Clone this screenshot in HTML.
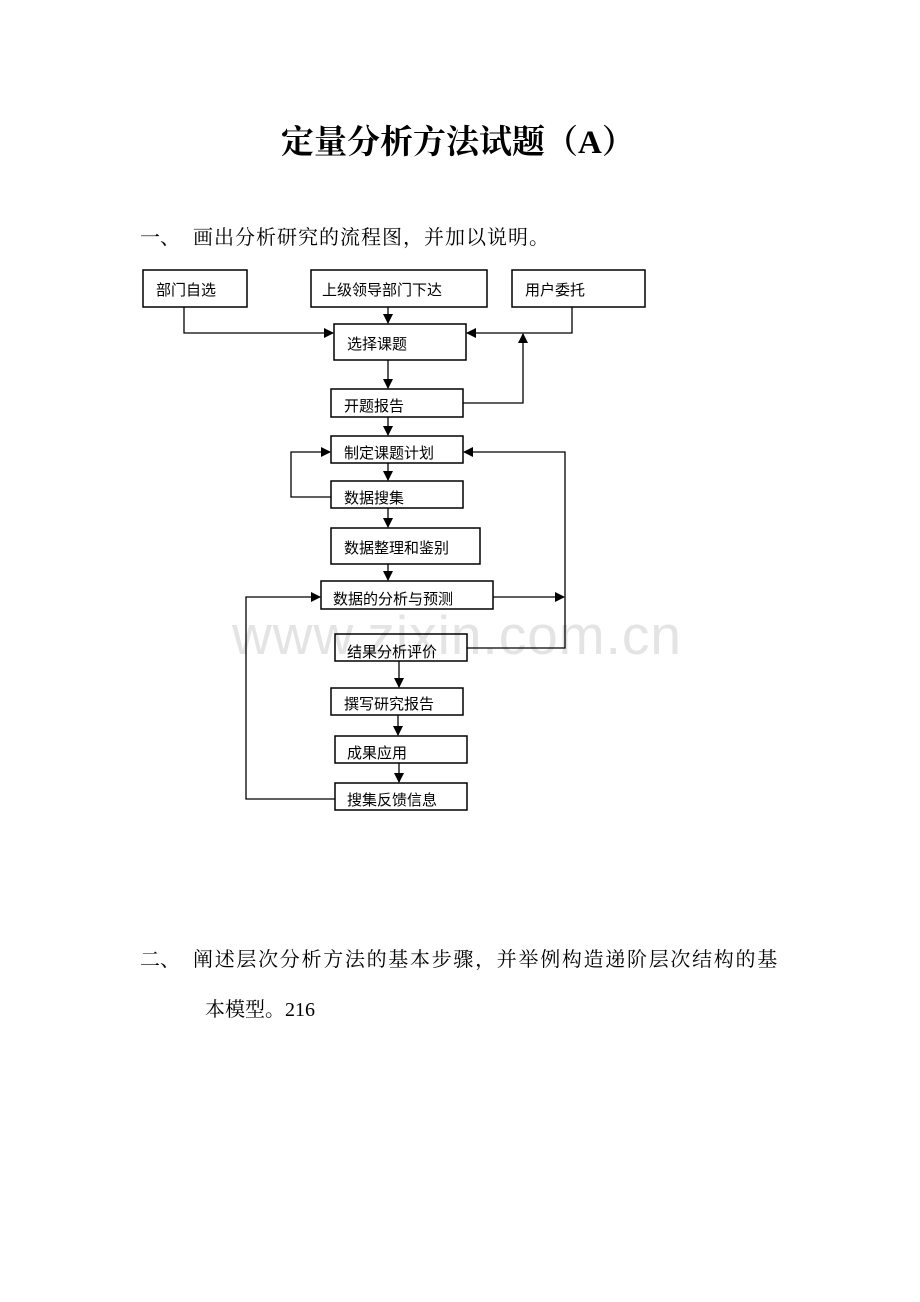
<!DOCTYPE html>
<html><head><meta charset="utf-8"><style>
body{margin:0;background:#fff;}
.p{position:relative;width:920px;height:1302px;overflow:hidden;font-family:"Liberation Serif","Noto Serif CJK SC","Noto Sans CJK SC",serif;}
.t{position:absolute;white-space:nowrap;color:#000;}
</style></head><body><div class="p">
<div class="t" style="left:232px;top:603px;font-family:'Liberation Sans',sans-serif;font-size:55px;color:#e4e4e4;letter-spacing:1px;">www.zixin.com.cn</div>
<div class="t" style="left:281px;top:116px;font-size:33px;font-weight:bold;letter-spacing:0px;">定量分析方法试题（A）</div>
<div class="t" style="left:140px;top:221px;font-size:20px;">一、</div>
<div class="t" style="left:193px;top:221px;font-size:20px;letter-spacing:1px;">画出分析研究的流程图，并加以说明。</div>
<div class="t" style="left:140px;top:943px;font-size:20px;">二、</div>
<div class="t" style="left:193px;top:943px;font-size:20px;letter-spacing:1.7px;">阐述层次分析方法的基本步骤，并举例构造递阶层次结构的基</div>
<div class="t" style="left:205px;top:993px;font-size:20px;">本模型。216</div>
<svg width="920" height="1302" style="position:absolute;left:0;top:0" font-family="Liberation Sans, Noto Sans CJK SC, sans-serif" font-size="15">
<defs><marker id="a" markerWidth="10" markerHeight="10" refX="9" refY="5" orient="auto" markerUnits="userSpaceOnUse"><path d="M0,0 L10,5 L0,10z" fill="#000"/></marker></defs>
<g fill="none" stroke="#000" stroke-width="1.5">
<rect x="143" y="270" width="104" height="37"/>
<rect x="311" y="270" width="176" height="37"/>
<rect x="512" y="270" width="133" height="37"/>
<rect x="334" y="324" width="132" height="36"/>
<rect x="331" y="389" width="132" height="28"/>
<rect x="331" y="436" width="132" height="27"/>
<rect x="331" y="481" width="132" height="27"/>
<rect x="331" y="528" width="149" height="36"/>
<rect x="321" y="581" width="172" height="28"/>
<rect x="335" y="634" width="132" height="27"/>
<rect x="331" y="688" width="132" height="27"/>
<rect x="335" y="736" width="132" height="27"/>
<rect x="335" y="783" width="132" height="27"/>
</g>
<g fill="none" stroke="#000" stroke-width="1.3">
<path d="M388,307 V323" marker-end="url(#a)"/>
<path d="M184,307 V333 H333" marker-end="url(#a)"/>
<path d="M572,307 V333 H467" marker-end="url(#a)"/>
<path d="M463,403 H523 V334" marker-end="url(#a)"/>
<path d="M388,360 V388" marker-end="url(#a)"/>
<path d="M388,417 V435" marker-end="url(#a)"/>
<path d="M388,463 V480" marker-end="url(#a)"/>
<path d="M388,508 V527" marker-end="url(#a)"/>
<path d="M388,564 V580" marker-end="url(#a)"/>
<path d="M331,497 H291 V452 H330" marker-end="url(#a)"/>
<path d="M467,648 H565 V452 H464" marker-end="url(#a)"/>
<path d="M493,597 H564" marker-end="url(#a)"/>
<path d="M335,799 H246 V597 H320" marker-end="url(#a)"/>
<path d="M399,661 V687" marker-end="url(#a)"/>
<path d="M398,715 V735" marker-end="url(#a)"/>
<path d="M399,763 V782" marker-end="url(#a)"/>
</g>
<g fill="#000">
<text x="156" y="295">部门自选</text>
<text x="322" y="295">上级领导部门下达</text>
<text x="525" y="295">用户委托</text>
<text x="347" y="349">选择课题</text>
<text x="344" y="411">开题报告</text>
<text x="344" y="458">制定课题计划</text>
<text x="344" y="503">数据搜集</text>
<text x="344" y="553">数据整理和鉴别</text>
<text x="333" y="604">数据的分析与预测</text>
<text x="347" y="657">结果分析评价</text>
<text x="344" y="709">撰写研究报告</text>
<text x="347" y="758">成果应用</text>
<text x="347" y="805">搜集反馈信息</text>
</g>
</svg>
</div></body></html>
